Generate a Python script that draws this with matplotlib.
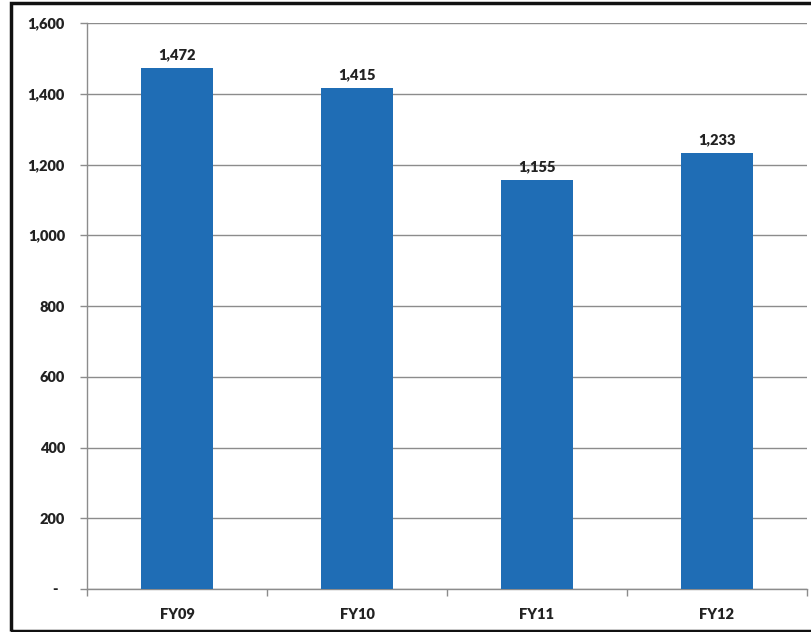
import matplotlib
matplotlib.use("Agg")
import matplotlib.pyplot as plt
from matplotlib.patches import Rectangle
from matplotlib.ticker import FuncFormatter, FixedLocator

categories = ["FY09", "FY10", "FY11", "FY12"]
values = [1472, 1415, 1155, 1233]
y_ticks = [0, 200, 400, 600, 800, 1000, 1200, 1400, 1600]

bar_color = "#1f6db5"
text_color = "#222222"
grid_color = "#8c8c8c"

plt.rcParams["font.family"] = ["Lato", "DejaVu Sans"]

fig = plt.figure(figsize=(8.12, 6.32), dpi=100)
ax = fig.add_axes([87 / 812, 43 / 632, 720 / 812, 566 / 632])

x = list(range(len(categories)))
bars = ax.bar(x, values, width=0.4, color=bar_color, zorder=3)

for xi, v in zip(x, values):
    ax.annotate(f"{v:,}", (xi, v), xytext=(0, 5), textcoords="offset points",
                ha="center", va="bottom", fontsize=10.5, fontweight="heavy",
                color=text_color)

ax.set_xlim(-0.5, len(categories) - 0.5)
ax.set_ylim(0, 1600)
ax.set_yticks(y_ticks)
ax.yaxis.set_major_formatter(FuncFormatter(lambda v, p: "-  " if v == 0 else f"{int(v):,}"))
ax.yaxis.grid(True, color=grid_color, linewidth=1.0, zorder=0)

ax.set_xticks(x)
ax.set_xticklabels(categories)
ax.xaxis.set_minor_locator(FixedLocator([i - 0.5 for i in range(len(categories) + 1)]))
ax.tick_params(axis="x", which="major", length=0, pad=13.5)
ax.tick_params(axis="x", which="minor", length=5, color=grid_color, width=1)
ax.tick_params(axis="y", length=5, color=grid_color, width=1, pad=10.9)

for lab in ax.get_xticklabels() + ax.get_yticklabels():
    lab.set_fontsize(10.5)
    lab.set_fontweight("heavy")
    lab.set_color(text_color)

for side in ["top", "right"]:
    ax.spines[side].set_visible(False)
for side in ["left", "bottom"]:
    ax.spines[side].set_color(grid_color)
    ax.spines[side].set_linewidth(1.0)

# outer frame around the chart area
fig.patches.append(Rectangle((11 / 812, 1.5 / 632), 810 / 812, 627.5 / 632,
                             transform=fig.transFigure, fill=False,
                             edgecolor="#111111", linewidth=2.5, clip_on=False))

fig.savefig("out.png", dpi=100)
